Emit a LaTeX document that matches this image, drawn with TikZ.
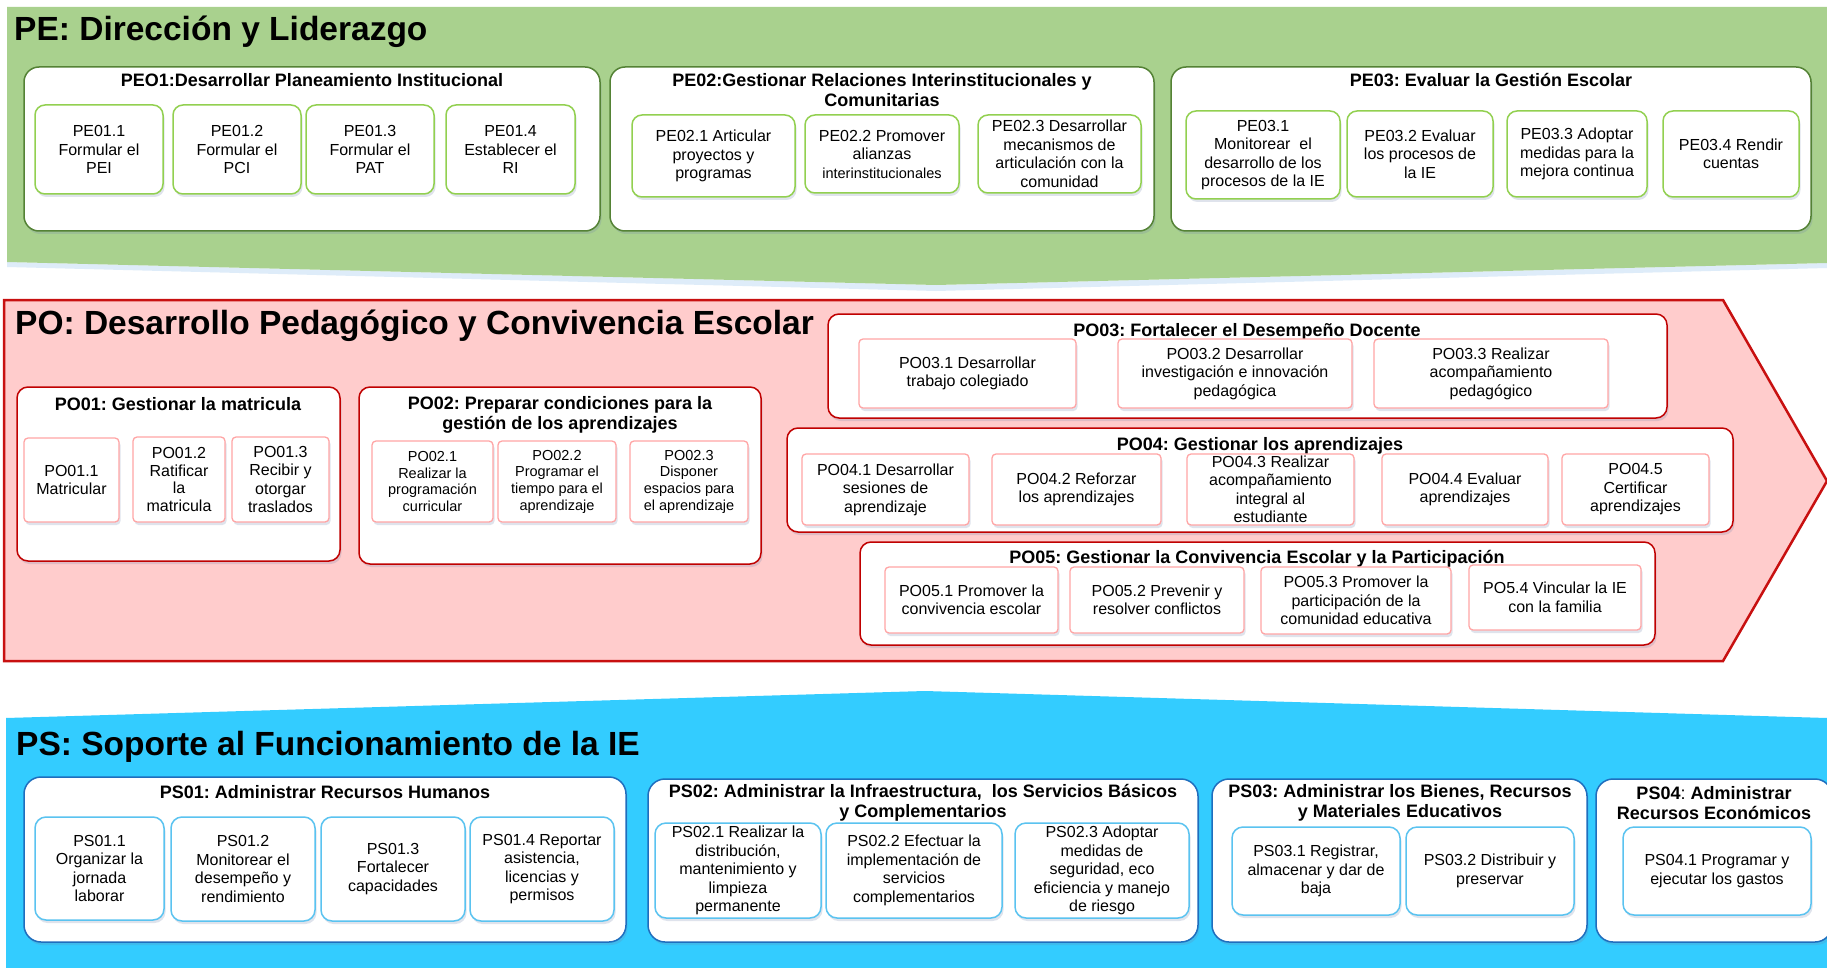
\documentclass[tikz,border=0pt]{standalone}
\usepackage{fontspec}
\setmainfont{Liberation Sans}
\usetikzlibrary{shadows}
\frenchspacing
\definecolor{pegreen}{RGB}{169,209,142}
\definecolor{pegrpb}{RGB}{84,130,53}
\definecolor{peitemb}{RGB}{146,208,80}
\definecolor{pofill}{RGB}{255,204,204}
\definecolor{poband}{RGB}{200,16,16}
\definecolor{pogrpb}{RGB}{192,0,0}
\definecolor{poitemb}{RGB}{255,165,165}
\definecolor{psfill}{RGB}{51,204,255}
\definecolor{psgrpb}{RGB}{31,110,190}
\definecolor{psitemb}{RGB}{90,195,240}
\definecolor{shadowc}{RGB}{110,130,170}
\definecolor{glowc}{RGB}{222,236,249}
\newcommand\boxat[7]{\node[#1,minimum width={(#5)-(#3)},minimum height={(#6)-(#4)}] (#2) at ({((#3)+(#5))/2},{((#4)+(#6))/2}) {#7};}
\tikzset{
  box/.style={align=center, inner sep=0pt, text=black},
  shad/.style={drop shadow={shadow xshift=1.5pt, shadow yshift=-3pt, opacity=0.22, fill=shadowc}},
  bodyfont/.style={font=\fontsize{16}{18.5}\selectfont},
  smallfont/.style={font=\fontsize{14.5}{16.7}\selectfont},
  pegrp/.style={box, shad, draw=pegrpb, line width=1.5pt, fill=white, rounded corners=15pt},
  peitem/.style={box, shad, bodyfont, draw=peitemb, line width=1.5pt, fill=white, rounded corners=10pt},
  pogrp/.style={box, shad, draw=pogrpb, line width=1.5pt, fill=white, rounded corners=11pt},
  poitem/.style={box, shad, bodyfont, draw=poitemb, line width=1.3pt, fill=white, rounded corners=4pt},
  psgrp/.style={box, shad, draw=psgrpb, line width=1.5pt, fill=white, rounded corners=17pt},
  psitem/.style={box, shad, bodyfont, draw=psitemb, line width=1.5pt, fill=white, rounded corners=11pt},
  grptitle/.style={align=center, inner sep=0pt, font=\bfseries\fontsize{18}{20}\selectfont},
  bigtitle/.style={inner sep=0pt, anchor=base west, font=\bfseries\fontsize{33.5}{38}\selectfont}
}
\begin{document}
\begin{tikzpicture}[x=1pt,y=-1pt]
\useasboundingbox (0,0) rectangle (1827,968);
\fill[white] (0,0) rectangle (1827,968);
% ---------------- bands
\fill[glowc] (7,262) -- (936,285) -- (1827,263) -- (1827,268) -- (936,291) -- (7,267) -- cycle;
\fill[pegreen] (7,7) -- (1827,7) -- (1827,263) -- (936,285) -- (7,262) -- cycle;
\draw[poband, fill=pofill, line width=2.5pt, line join=miter] (4,300) -- (1723,300) -- (1827,481) -- (1723,661) -- (4,661) -- cycle;
\fill[psfill] (6,718) -- (925,691) -- (1827,718) -- (1827,968) -- (6,968) -- cycle;
% ---------------- big titles
\node[bigtitle] (pet) at (14,41) {PE: Dirección y Liderazgo};
\node[bigtitle] (pot) at (15,334) {PO: Desarrollo Pedagógico y Convivencia Escolar};
\node[bigtitle] (pst) at (16,755) {PS: Soporte al Funcionamiento de la IE};
% ---------------- PE
\boxat{pegrp}{peg1}{24}{67}{600}{231}{}
\boxat{pegrp}{peg2}{610}{67}{1154}{231}{}
\boxat{pegrp}{peg3}{1171}{67}{1811}{231}{}
\node[grptitle] (peg1t) at (312,80) {PEO1:Desarrollar Planeamiento Institucional};
\node[grptitle] (peg2t) at (882,90) {PE02:Gestionar Relaciones Interinstitucionales y\\Comunitarias};
\node[grptitle] (peg3t) at (1491,80) {PE03: Evaluar la Gestión Escolar};
\boxat{peitem}{pe11}{35}{105}{163}{194}{PE01.1\\Formular el\\PEI}
\boxat{peitem}{pe12}{173}{105}{301}{194}{PE01.2\\Formular el\\PCI}
\boxat{peitem}{pe13}{306}{105}{434}{194}{PE01.3\\Formular el\\PAT}
\boxat{peitem}{pe14}{446}{105}{575}{194}{PE01.4\\Establecer el\\RI}
\boxat{peitem}{pe21}{632}{115}{795}{197}{PE02.1 Articular\\proyectos y\\programas}
\boxat{peitem}{pe22}{805}{115}{959}{193}{PE02.2 Promover\\alianzas\\{\fontsize{14.5}{16.7}\selectfont interinstitucionales}}
\boxat{peitem}{pe23}{978}{115}{1141}{193}{PE02.3 Desarrollar\\mecanismos de\\articulación con la\\comunidad}
\boxat{peitem}{pe31}{1186}{111}{1340}{199}{PE03.1\\Monitorear\ \ el\\desarrollo de los\\procesos de la IE}
\boxat{peitem}{pe32}{1347}{111}{1493}{197}{PE03.2 Evaluar\\los procesos de\\la IE}
\boxat{peitem}{pe33}{1507}{111}{1647}{197}{PE03.3 Adoptar\\medidas para la\\mejora continua}
\boxat{peitem}{pe34}{1663}{111}{1799}{197}{PE03.4 Rendir\\cuentas}
% ---------------- PO
\boxat{pogrp}{pog1}{17}{387}{340}{561}{}
\boxat{pogrp}{pog2}{359}{387}{761}{564}{}
\boxat{pogrp}{pog3}{828}{314}{1667}{418}{}
\boxat{pogrp}{pog4}{787}{428}{1733}{532}{}
\boxat{pogrp}{pog5}{860}{542}{1655}{645}{}
\node[grptitle] (pog1t) at (178,404) {PO01: Gestionar la matricula};
\node[grptitle] (pog2t) at (560,415) {PO02: Preparar condiciones para la\\gestión de los aprendizajes};
\node[grptitle] (pog3t) at (1247,332) {PO03: Fortalecer el Desempeño Docente};
\node[grptitle] (pog4t) at (1260,446) {PO04: Gestionar los aprendizajes};
\node[grptitle] (pog5t) at (1257,559) {PO05: Gestionar la Convivencia Escolar y la Participación};
\boxat{poitem, font=\fontsize{16}{17.5}\selectfont}{po11}{24}{438}{119}{522}{PO01.1\\Matricular}
\boxat{poitem, font=\fontsize{16}{17.5}\selectfont}{po12}{133}{437}{225}{522}{PO01.2\\Ratificar\\la\\matricula}
\boxat{poitem, font=\fontsize{16}{18.5}\selectfont}{po13}{232}{437}{329}{522}{PO01.3\\Recibir y\\otorgar\\traslados}
\boxat{poitem, smallfont}{po21}{372}{441}{493}{522}{PO02.1\\Realizar la\\programación\\curricular}
\boxat{poitem, smallfont}{po22}{498}{441}{616}{522}{PO02.2\\Programar el\\tiempo para el\\aprendizaje}
\boxat{poitem, smallfont}{po23}{630}{441}{748}{522}{PO02.3\\Disponer\\espacios para\\el aprendizaje}
\boxat{poitem}{po31}{859}{339}{1076}{408}{PO03.1 Desarrollar\\trabajo colegiado}
\boxat{poitem}{po32}{1118}{339}{1352}{408}{PO03.2 Desarrollar\\investigación e innovación\\pedagógica}
\boxat{poitem}{po33}{1374}{339}{1608}{408}{PO03.3 Realizar\\acompañamiento\\pedagógico}
\boxat{poitem}{po41}{802}{454}{969}{525}{PO04.1 Desarrollar\\sesiones de\\aprendizaje}
\boxat{poitem}{po42}{992}{454}{1161}{525}{PO04.2 Reforzar\\los aprendizajes}
\boxat{poitem}{po43}{1187}{454}{1354}{525}{PO04.3 Realizar\\acompañamiento\\integral al\\estudiante}
\boxat{poitem}{po44}{1382}{454}{1548}{525}{PO04.4 Evaluar\\aprendizajes}
\boxat{poitem}{po45}{1562}{454}{1709}{525}{PO04.5\\Certificar\\aprendizajes}
\boxat{poitem}{po51}{885}{567}{1058}{633}{PO05.1 Promover la\\convivencia escolar}
\boxat{poitem}{po52}{1070}{567}{1244}{633}{PO05.2 Prevenir y\\resolver conflictos}
\boxat{poitem}{po53}{1261}{567}{1451}{634}{PO05.3 Promover la\\participación de la\\comunidad educativa}
\boxat{poitem}{po54}{1469}{565}{1641}{630}{PO5.4 Vincular la IE\\con la familia}
% ---------------- PS
\boxat{psgrp}{psg1}{24}{777}{626}{942}{}
\boxat{psgrp}{psg2}{648}{779}{1198}{942}{}
\boxat{psgrp}{psg3}{1212}{779}{1587}{942}{}
\boxat{psgrp}{psg4}{1596}{779}{1832}{942}{}
\node[grptitle] (psg1t) at (325,792) {PS01: Administrar Recursos Humanos};
\node[grptitle] (psg2t) at (923,803) {PS02: Administrar la Infraestructura,\ \ los Servicios Básicos\\y Complementarios};
\node[grptitle] (psg3t) at (1400,803) {PS03: Administrar los Bienes, Recursos\\y Materiales Educativos};
\node[grptitle] (psg4t) at (1714,803) {PS04{\mdseries :} Administrar\\Recursos Económicos};
\boxat{psitem}{ps11}{35}{817}{164}{920}{PS01.1\\Organizar la\\jornada\\laborar}
\boxat{psitem}{ps12}{171}{817}{315}{921}{PS01.2\\Monitorear el\\desempeño y\\rendimiento}
\boxat{psitem}{ps13}{321}{817}{465}{921}{PS01.3\\Fortalecer\\capacidades}
\boxat{psitem}{ps14}{470}{817}{614}{921}{PS01.4 Reportar\\asistencia,\\licencias y\\permisos}
\boxat{psitem}{ps21}{655}{823}{821}{918}{PS02.1 Realizar la\\distribución,\\mantenimiento y\\limpieza\\permanente}
\boxat{psitem}{ps22}{826}{823}{1002}{918}{PS02.2 Efectuar la\\implementación de\\servicios\\complementarios}
\boxat{psitem}{ps23}{1015}{823}{1189}{918}{PS02.3 Adoptar\\medidas de\\seguridad, eco\\eficiencia y manejo\\de riesgo}
\boxat{psitem}{ps31}{1232}{827}{1400}{915}{PS03.1 Registrar,\\almacenar y dar de\\baja}
\boxat{psitem}{ps32}{1406}{827}{1574}{915}{PS03.2 Distribuir y\\preservar}
\boxat{psitem}{ps41}{1623}{827}{1811}{915}{PS04.1 Programar y\\ejecutar los gastos}
\end{tikzpicture}
\end{document}
